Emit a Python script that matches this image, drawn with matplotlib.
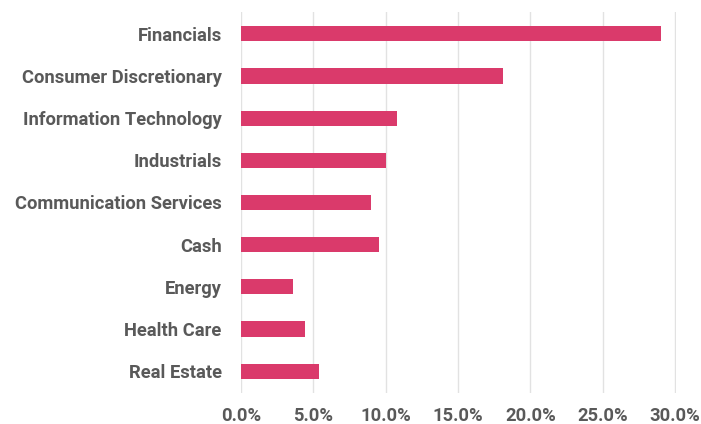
import matplotlib
matplotlib.use("Agg")
import matplotlib.pyplot as plt
from matplotlib.ticker import FuncFormatter

sectors = ["Financials", "Consumer Discretionary", "Information Technology",
           "Industrials", "Communication Services", "Cash", "Energy",
           "Health Care", "Real Estate"]
weights = [29.0, 18.1, 10.8, 10.0, 9.0, 9.5, 3.6, 4.4, 5.4]
xticks = [0, 5, 10, 15, 20, 25, 30]

plt.rcParams["font.family"] = ["Roboto", "DejaVu Sans"]

fig = plt.figure(figsize=(7.01, 4.24), dpi=100)
ax = fig.add_axes([0.344, 0.073, 0.620, 0.899])

pos = list(range(len(sectors)))
ax.barh(pos, weights, height=0.36, color="#DA3A6B", zorder=3)
ax.set_yticks(pos)
ax.set_yticklabels(sectors)
ax.set_ylim(len(sectors) - 0.48, -0.52)
ax.set_xlim(0, 30.05)
ax.set_xticks(xticks)
ax.xaxis.set_major_formatter(FuncFormatter(lambda v, p: f"{v:.1f}%"))

ax.grid(axis="x", color="#e2e2e2", linewidth=1, zorder=0)
for s in ax.spines.values():
    s.set_visible(False)
ax.tick_params(axis="both", length=0, labelsize=13.2, labelcolor="#595959")
ax.tick_params(axis="y", pad=14)
ax.tick_params(axis="x", pad=10)
for lbl in ax.get_xticklabels() + ax.get_yticklabels():
    lbl.set_fontweight("bold")

fig.savefig("out.png", dpi=100, facecolor="white")
